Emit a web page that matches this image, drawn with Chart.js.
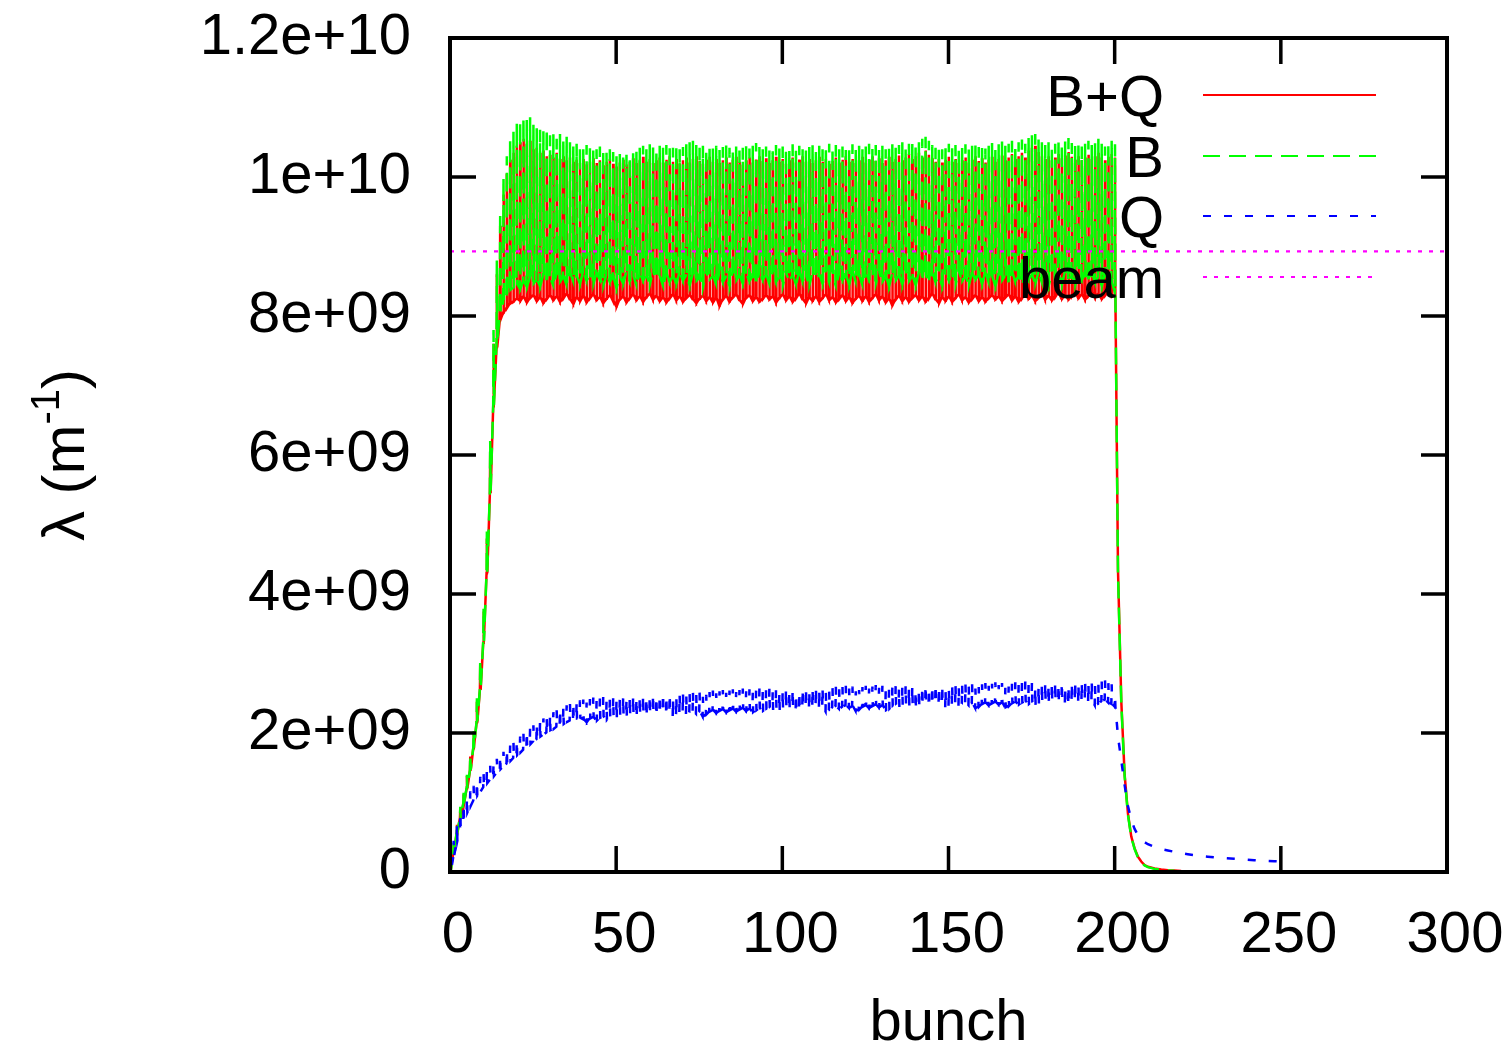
<!DOCTYPE html>
<html><head><meta charset="utf-8">
<script src="https://cdn.jsdelivr.net/npm/chart.js@4.4.1/dist/chart.umd.min.js"></script>
<style>html,body{margin:0;padding:0;background:#fff}canvas{display:block}</style>
</head><body>
<canvas id="c" width="1511" height="1047"></canvas>
<script>
// ---------- data (values in units of 1e9 m^-1) ----------
const UNIT = 1e9;
const seriesLabels = ['B+Q', 'B', 'Q', 'beam'];
const xTicks = [0, 50, 100, 150, 200, 250, 300];
const yTicks = [0, 2e9, 4e9, 6e9, 8e9, 1e10, 1.2e10];
const yTickLabels = ['0', '2e+09', '4e+09', '6e+09', '8e+09', '1e+10', '1.2e+10'];

// B+Q : per bunch (0..200) minimum and peak
const bqLow = [
0.00,0.28,0.56,0.78,0.98,1.20,1.46,1.78,2.15,2.62,
3.30,4.30,5.45,6.70,7.55,7.95,8.05,8.12,8.18,8.21,
8.25,8.22,8.28,8.20,8.26,8.30,8.22,8.27,8.19,8.25,
8.30,8.23,8.28,8.21,8.26,8.32,8.24,8.18,8.27,8.22,
8.29,8.20,8.26,8.31,8.23,8.27,8.19,8.25,8.30,8.22,
8.14,8.24,8.28,8.20,8.26,8.31,8.23,8.28,8.21,8.27,
8.32,8.24,8.29,8.22,8.27,8.20,8.26,8.31,8.23,8.28,
8.21,8.26,8.30,8.24,8.19,8.25,8.29,8.22,8.27,8.20,
8.26,8.15,8.24,8.29,8.21,8.27,8.31,8.23,8.18,8.26,
8.30,8.22,8.27,8.21,8.25,8.30,8.24,8.28,8.20,8.26,
8.31,8.23,8.28,8.21,8.26,8.32,8.24,8.19,8.27,8.22,
8.28,8.21,8.26,8.31,8.23,8.27,8.20,8.25,8.30,8.22,
8.27,8.19,8.25,8.29,8.22,8.28,8.21,8.26,8.31,8.23,
8.28,8.20,8.25,8.16,8.24,8.29,8.22,8.27,8.21,8.26,
8.30,8.23,8.28,8.21,8.26,8.32,8.24,8.19,8.27,8.22,
8.28,8.21,8.26,8.31,8.23,8.27,8.20,8.25,8.30,8.22,
8.27,8.21,8.26,8.30,8.24,8.28,8.22,8.27,8.31,8.23,
8.28,8.21,8.26,8.32,8.25,8.29,8.22,8.27,8.33,8.24,
8.29,8.23,8.28,8.34,8.25,8.30,8.24,8.29,8.35,8.26,
8.31,8.24,8.29,8.34,8.27,8.32,8.25,8.30,8.35,8.28,
8.30];
const bqHigh = [
0.05,0.40,0.68,0.92,1.12,1.38,1.66,2.00,2.45,3.00,
3.75,4.80,6.05,7.60,8.60,9.30,9.75,10.05,10.25,10.35,
10.45,10.50,10.55,10.48,10.52,10.40,10.42,10.35,10.38,10.30,
10.32,10.28,10.35,10.26,10.30,10.24,10.28,10.22,10.25,10.20,
10.26,10.18,10.22,10.27,10.20,10.24,10.17,10.22,10.26,10.19,
10.15,10.21,10.25,10.18,10.22,10.27,10.20,10.24,10.29,10.22,
10.26,10.20,10.24,10.28,10.21,10.25,10.30,10.22,10.26,10.19,
10.24,10.28,10.21,10.26,10.30,10.23,10.19,10.25,10.29,10.22,
10.26,10.20,10.24,10.28,10.21,10.25,10.29,10.22,10.18,10.24,
10.28,10.21,10.25,10.30,10.23,10.27,10.20,10.24,10.29,10.22,
10.26,10.19,10.24,10.28,10.21,10.25,10.30,10.22,10.26,10.20,
10.24,10.29,10.22,10.26,10.19,10.23,10.28,10.21,10.25,10.30,
10.22,10.26,10.20,10.24,10.29,10.21,10.25,10.30,10.23,10.27,
10.20,10.24,10.29,10.22,10.26,10.31,10.24,10.28,10.33,10.26,
10.30,10.35,10.28,10.38,10.32,10.27,10.22,10.26,10.21,10.25,
10.29,10.22,10.26,10.20,10.24,10.28,10.21,10.25,10.30,10.23,
10.27,10.21,10.25,10.29,10.22,10.26,10.31,10.24,10.28,10.33,
10.26,10.30,10.35,10.28,10.38,10.42,10.45,10.36,10.30,10.26,
10.30,10.24,10.28,10.33,10.27,10.31,10.36,10.29,10.25,10.30,
10.24,10.28,10.32,10.26,10.30,10.35,10.28,10.24,10.29,10.33,
10.28];
const bqTailBunch = [201,202,203,204,205,206,207,208,209,210,212,214,216,218,220,224,228,232];
const bqTail = [4.35,2.45,1.40,0.84,0.51,0.34,0.22,0.15,0.10,0.075,0.05,0.035,0.025,0.02,0.015,0.01,0.007,0.005];

// B
const bLow = [
0.00,0.29,0.57,0.79,0.99,1.21,1.47,1.79,2.17,2.64,
3.32,4.32,5.48,6.72,7.62,8.05,8.20,8.30,8.38,8.42,
8.46,8.40,8.50,8.43,8.55,8.47,8.52,8.44,8.58,8.49,
8.54,8.45,8.60,8.50,8.56,8.46,8.62,8.51,8.57,8.48,
8.63,8.52,8.58,8.47,8.61,8.53,8.45,8.59,8.50,8.56,
8.42,8.55,8.48,8.62,8.51,8.57,8.46,8.60,8.52,8.58,
8.47,8.63,8.53,8.56,8.45,8.61,8.50,8.57,8.48,8.62,
8.52,8.58,8.46,8.60,8.51,8.55,8.44,8.62,8.53,8.57,
8.47,8.61,8.50,8.56,8.45,8.63,8.52,8.58,8.48,8.60,
8.51,8.57,8.46,8.62,8.53,8.59,8.48,8.61,8.50,8.56,
8.45,8.60,8.52,8.58,8.47,8.63,8.51,8.57,8.46,8.61,
8.53,8.59,8.48,8.62,8.50,8.56,8.45,8.60,8.52,8.58,
8.47,8.63,8.51,8.57,8.46,8.61,8.53,8.59,8.48,8.62,
8.50,8.56,8.45,8.60,8.52,8.58,8.47,8.63,8.51,8.57,
8.46,8.61,8.53,8.59,8.48,8.62,8.50,8.56,8.45,8.60,
8.52,8.58,8.47,8.63,8.51,8.57,8.46,8.61,8.53,8.59,
8.48,8.62,8.50,8.56,8.45,8.60,8.52,8.58,8.47,8.63,
8.51,8.57,8.46,8.61,8.53,8.59,8.48,8.62,8.50,8.56,
8.45,8.60,8.52,8.58,8.47,8.63,8.51,8.57,8.46,8.61,
8.53,8.59,8.48,8.62,8.50,8.56,8.45,8.60,8.52,8.48,
8.35];
const bHigh = [
0.06,0.42,0.70,0.94,1.14,1.40,1.68,2.04,2.50,3.05,
3.80,4.90,6.20,7.80,8.80,9.50,10.00,10.30,10.55,10.65,
10.78,10.80,10.85,10.82,10.86,10.75,10.70,10.68,10.66,10.70,
10.60,10.62,10.55,10.62,10.55,10.58,10.50,10.45,10.48,10.44,
10.40,10.46,10.42,10.38,10.40,10.44,10.38,10.35,10.40,10.36,
10.30,10.33,10.28,10.32,10.30,10.34,10.38,10.42,10.45,10.40,
10.47,10.44,10.40,10.45,10.42,10.46,10.48,10.42,10.45,10.40,
10.43,10.48,10.50,10.52,10.46,10.42,10.45,10.40,10.44,10.41,
10.45,10.39,10.43,10.47,10.42,10.40,10.44,10.38,10.42,10.46,
10.41,10.45,10.49,10.43,10.40,10.44,10.38,10.42,10.46,10.41,
10.44,10.39,10.43,10.47,10.42,10.45,10.40,10.38,10.43,10.46,
10.41,10.45,10.40,10.44,10.48,10.42,10.46,10.40,10.44,10.39,
10.43,10.47,10.42,10.45,10.40,10.44,10.48,10.43,10.46,10.41,
10.45,10.40,10.44,10.48,10.42,10.46,10.50,10.44,10.48,10.52,
10.47,10.50,10.55,10.58,10.52,10.46,10.42,10.45,10.40,10.44,
10.48,10.42,10.46,10.40,10.44,10.47,10.41,10.45,10.49,10.43,
10.46,10.41,10.45,10.49,10.43,10.47,10.51,10.45,10.48,10.52,
10.46,10.50,10.54,10.48,10.56,10.60,10.62,10.55,10.50,10.46,
10.50,10.45,10.48,10.53,10.47,10.51,10.56,10.49,10.45,10.50,
10.44,10.48,10.52,10.46,10.50,10.55,10.48,10.44,10.49,10.53,
10.47];
const bTailBunch = [201,202,203,204,205,206,207,208,209,210,212,214,216,218];
const bTail = [4.30,2.42,1.38,0.82,0.50,0.33,0.21,0.14,0.095,0.07,0.045,0.03,0.022,0.017];

// Q
const qLow = [
0.00,0.22,0.45,0.62,0.75,0.86,0.95,1.03,1.10,1.16,
1.22,1.28,1.33,1.38,1.43,1.48,1.52,1.56,1.60,1.64,
1.68,1.72,1.76,1.80,1.84,1.88,1.91,1.95,1.98,2.01,
2.04,2.06,2.09,2.11,2.13,2.16,2.18,2.19,2.21,2.22,
2.20,2.16,2.21,2.23,2.18,2.22,2.24,2.19,2.23,2.25,
2.21,2.24,2.26,2.22,2.25,2.27,2.23,2.26,2.28,2.24,
2.27,2.29,2.25,2.28,2.30,2.26,2.29,2.22,2.25,2.29,
2.31,2.27,2.30,2.32,2.28,2.31,2.24,2.27,2.31,2.33,
2.29,2.32,2.34,2.30,2.33,2.35,2.31,2.34,2.36,2.32,
2.35,2.30,2.33,2.36,2.32,2.35,2.37,2.33,2.36,2.31,
2.34,2.37,2.33,2.36,2.29,2.32,2.36,2.38,2.34,2.37,
2.39,2.35,2.38,2.31,2.33,2.37,2.39,2.35,2.38,2.40,
2.36,2.39,2.32,2.34,2.38,2.40,2.36,2.39,2.41,2.37,
2.40,2.33,2.35,2.39,2.41,2.37,2.40,2.42,2.38,2.41,
2.34,2.36,2.40,2.42,2.38,2.41,2.43,2.39,2.42,2.35,
2.37,2.41,2.43,2.39,2.42,2.44,2.40,2.43,2.36,2.38,
2.42,2.44,2.40,2.43,2.45,2.41,2.44,2.37,2.39,2.43,
2.45,2.41,2.44,2.46,2.42,2.45,2.38,2.40,2.44,2.46,
2.42,2.45,2.47,2.43,2.46,2.39,2.41,2.45,2.47,2.43,
2.46,2.48,2.44,2.47,2.40,2.42,2.46,2.48,2.44,2.42,
2.38];
const qHigh = [
0.10,0.45,0.70,0.86,0.98,1.08,1.16,1.24,1.31,1.37,
1.43,1.48,1.53,1.58,1.63,1.68,1.73,1.77,1.82,1.86,
1.90,1.95,1.99,2.03,2.07,2.11,2.14,2.18,2.21,2.24,
2.27,2.30,2.33,2.35,2.38,2.40,2.42,2.44,2.46,2.47,
2.48,2.44,2.49,2.51,2.46,2.50,2.52,2.47,2.51,2.53,
2.49,2.52,2.54,2.50,2.53,2.55,2.51,2.54,2.56,2.52,
2.55,2.57,2.53,2.56,2.58,2.54,2.57,2.50,2.53,2.57,
2.59,2.55,2.58,2.60,2.56,2.59,2.52,2.55,2.59,2.61,
2.57,2.60,2.62,2.58,2.61,2.63,2.59,2.62,2.64,2.60,
2.63,2.58,2.61,2.64,2.60,2.63,2.65,2.61,2.64,2.59,
2.62,2.65,2.61,2.64,2.57,2.60,2.64,2.66,2.62,2.65,
2.67,2.63,2.66,2.59,2.61,2.65,2.67,2.63,2.66,2.68,
2.64,2.67,2.60,2.62,2.66,2.68,2.64,2.67,2.69,2.65,
2.68,2.61,2.63,2.67,2.69,2.65,2.68,2.70,2.66,2.69,
2.62,2.64,2.68,2.70,2.66,2.69,2.71,2.67,2.70,2.63,
2.65,2.69,2.71,2.67,2.70,2.72,2.68,2.71,2.64,2.66,
2.70,2.72,2.68,2.71,2.73,2.69,2.72,2.65,2.67,2.71,
2.73,2.69,2.72,2.74,2.70,2.73,2.66,2.68,2.72,2.74,
2.70,2.73,2.75,2.71,2.74,2.67,2.69,2.73,2.75,2.71,
2.74,2.76,2.72,2.75,2.68,2.70,2.74,2.76,2.72,2.70,
2.55];
const qTailBunch = [201,202,203,204,205,206,207,208,209,210,212,214,216,218,220,222,224,226,228,230,233,236,239,242,245,248,250];
const qTail = [1.95,1.60,1.25,0.95,0.75,0.62,0.53,0.47,0.43,0.40,0.36,0.33,0.31,0.29,0.27,0.255,0.24,0.23,0.22,0.21,0.20,0.19,0.18,0.17,0.162,0.155,0.15];

// beam line density reference
const beamBunch = [0, 300];
const beamLevel = [8.93, 8.93];

// ---------- build point lists ----------
const SPIKE_UP = 0.1, SPIKE_DOWN = 0.22;
function train(lo, hi, tx, ty) {
  const pts = [];
  for (let k = 0; k < lo.length; k++) {
    pts.push({x: k, y: lo[k] * UNIT});
    pts.push({x: k + SPIKE_UP, y: hi[k] * UNIT});
    pts.push({x: k + SPIKE_DOWN, y: lo[k] * UNIT});
  }
  for (let i = 0; i < tx.length; i++) pts.push({x: tx[i], y: ty[i] * UNIT});
  return pts;
}
const FONT = '"Liberation Sans", Arial, Helvetica, sans-serif';
const colors = ['#ff0000', '#00ff00', '#0000ff', '#ff00ff'];
const dashes = [[], [17, 9], [8, 13], [4, 7]];
const widths = [2.5, 2.5, 2.5, 2.2];

const datasets = [
  {label: seriesLabels[0], data: train(bqLow, bqHigh, bqTailBunch, bqTail), order: 4},
  {label: seriesLabels[1], data: train(bLow, bHigh, bTailBunch, bTail), order: 3},
  {label: seriesLabels[2], data: train(qLow, qHigh, qTailBunch, qTail), order: 2},
  {label: seriesLabels[3], data: beamBunch.map((b, i) => ({x: b, y: beamLevel[i] * UNIT})), order: 1}
].map((d, i) => Object.assign(d, {
  borderColor: colors[i], borderWidth: widths[i], borderDash: dashes[i],
  pointRadius: 0, tension: 0, fill: false
}));

// ---------- plugins: frame, inward ticks, legend, y title ----------
const framePlugin = {
  id: 'frame',
  afterDatasetsDraw(chart) {
    const {ctx, chartArea: a, scales} = chart;
    ctx.save();
    ctx.strokeStyle = '#000';
    ctx.lineWidth = 3.5;
    const TL = 26;
    ctx.beginPath();
    xTicks.forEach(v => {
      const p = scales.x.getPixelForValue(v);
      ctx.moveTo(p, a.bottom); ctx.lineTo(p, a.bottom - TL);
      ctx.moveTo(p, a.top); ctx.lineTo(p, a.top + TL);
    });
    yTicks.forEach(v => {
      const p = scales.y.getPixelForValue(v);
      ctx.moveTo(a.left, p); ctx.lineTo(a.left + TL, p);
      ctx.moveTo(a.right, p); ctx.lineTo(a.right - TL, p);
    });
    ctx.stroke();
    ctx.lineWidth = 4;
    ctx.strokeRect(a.left, a.top, a.right - a.left, a.bottom - a.top);
    ctx.restore();
  },
  afterDraw(chart) {
    const ctx = chart.ctx;
    ctx.save();
    // legend
    ctx.font = '58px ' + FONT;
    ctx.textAlign = 'right';
    ctx.textBaseline = 'alphabetic';
    ctx.fillStyle = '#000';
    const rowY = [95, 156, 216, 277];
    chart.data.datasets.forEach((d, i) => {
      const y = rowY[i];
      ctx.fillText(d.label, 1164, y + 21);
      ctx.strokeStyle = d.borderColor;
      ctx.lineWidth = 2.2;
      ctx.setLineDash(d.borderDash);
      ctx.beginPath();
      ctx.moveTo(1203, y); ctx.lineTo(1376, y);
      ctx.stroke();
      ctx.setLineDash([]);
    });
    // y title: λ (m^-1)
    ctx.translate(84, 455);
    ctx.rotate(-Math.PI / 2);
    const parts = [['λ (m', '60px ' + FONT, 0], ['-1', '40px ' + FONT, -25], [')', '60px ' + FONT, 0]];
    let total = 0;
    parts.forEach(p => { ctx.font = p[1]; total += ctx.measureText(p[0]).width; });
    let x = -total / 2;
    ctx.textAlign = 'left';
    parts.forEach(p => { ctx.font = p[1]; ctx.fillText(p[0], x, p[2]); x += ctx.measureText(p[0]).width; });
    ctx.restore();
  }
};

new Chart(document.getElementById('c'), {
  type: 'line',
  data: {datasets},
  options: {
    responsive: false, animation: false, devicePixelRatio: 1,
    layout: {padding: {left: 0, right: 64, top: 38, bottom: 0}},
    plugins: {legend: {display: false}, tooltip: {enabled: false}},
    scales: {
      x: {
        type: 'linear', min: 0, max: 300,
        afterFit(s) { s.height = 175; s.paddingLeft = 0; s.paddingRight = 0; },
        afterBuildTicks(s) { s.ticks = xTicks.map(v => ({value: v})); },
        grid: {display: false, drawTicks: false, tickLength: 0},
        border: {display: false},
        ticks: {font: {family: FONT, size: 58}, color: '#000', padding: 29, labelOffset: 8, maxRotation: 0, autoSkip: false},
        title: {display: true, text: 'bunch', color: '#000', font: {family: FONT, size: 58, lineHeight: 0.8}, padding: 0}
      },
      y: {
        type: 'linear', min: 0, max: 1.2e10,
        afterFit(s) { s.width = 450; s.paddingTop = 0; s.paddingBottom = 0; },
        afterBuildTicks(s) { s.ticks = yTicks.map(v => ({value: v})); },
        grid: {display: false, drawTicks: false, tickLength: 0},
        border: {display: false},
        ticks: {font: {family: FONT, size: 58}, color: '#000', padding: 39, autoSkip: false,
          callback: (v) => { const i = yTicks.indexOf(v); return i >= 0 ? yTickLabels[i] : ''; }}
      }
    }
  },
  plugins: [framePlugin]
});
</script>
</body></html>
